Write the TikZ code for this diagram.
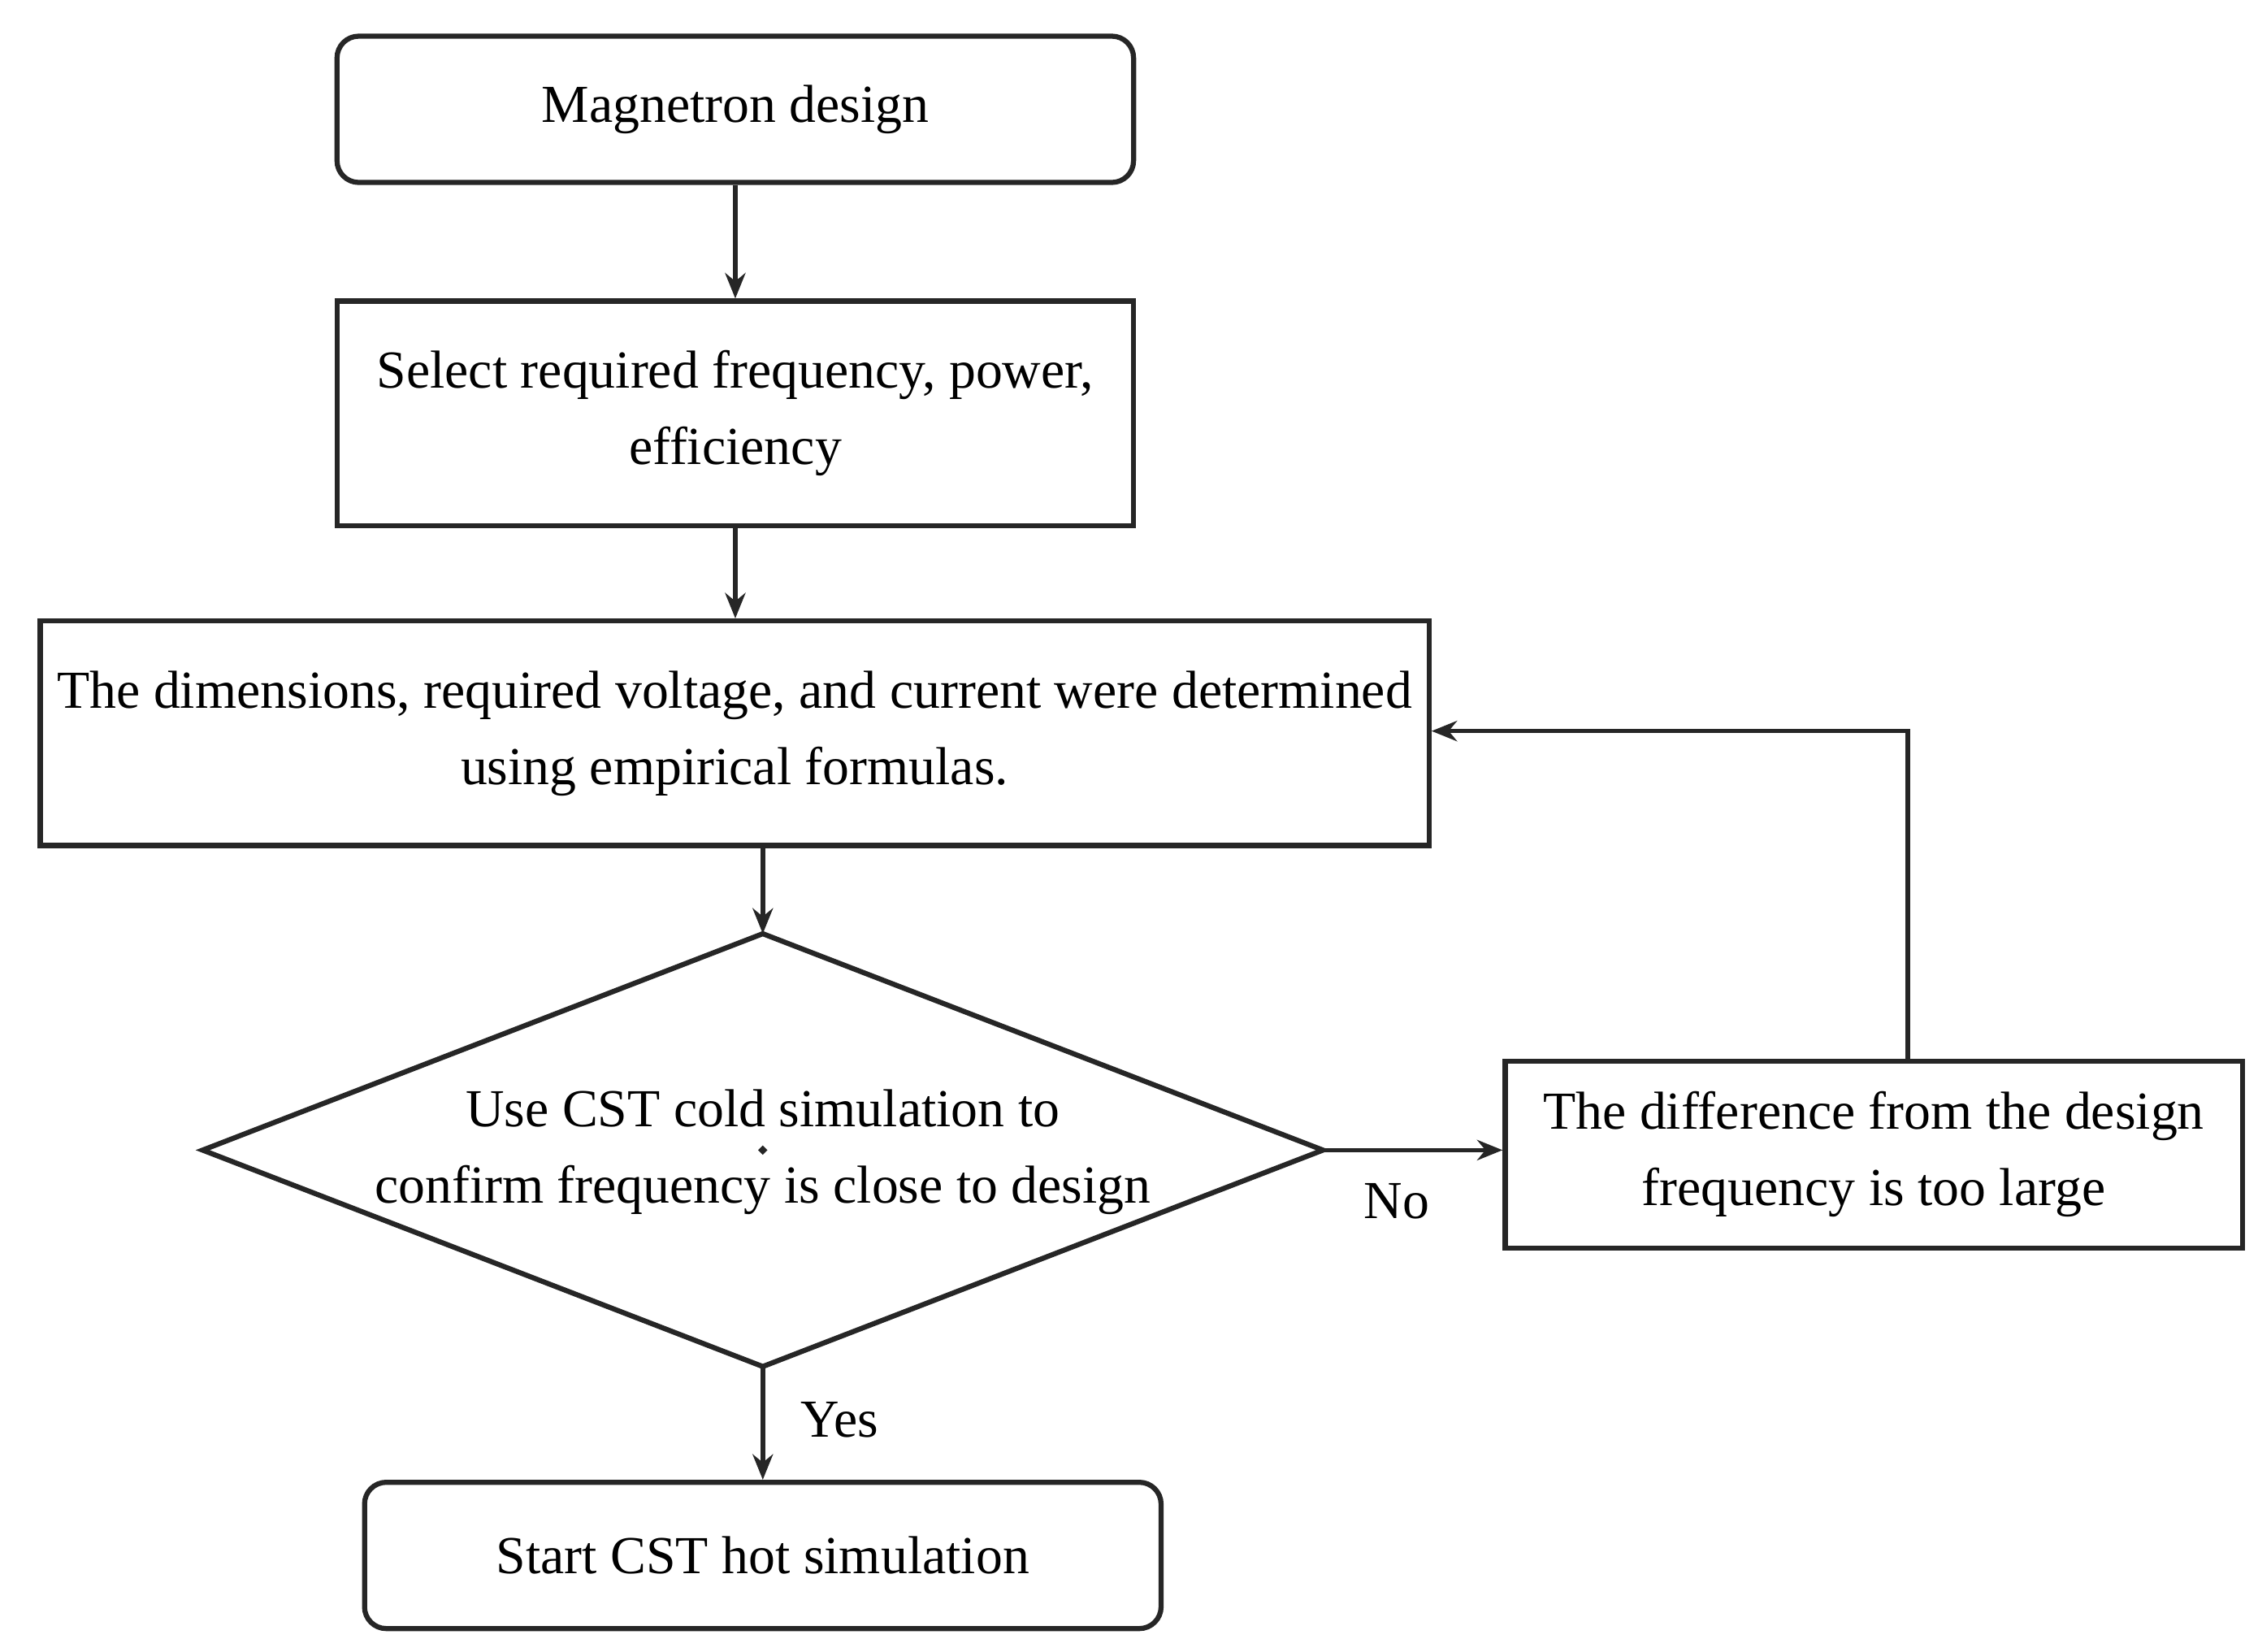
\documentclass[tikz,border=0pt]{standalone}
\usepackage{fontspec}
\setmainfont{Liberation Serif}
\usetikzlibrary{shapes.geometric,arrows.meta}
\begin{document}
\begin{tikzpicture}[x=0.01cm,y=-0.01cm,
  box/.style={draw=black!85,line width=1pt,align=center,font=\fontsize{10.5}{15}\selectfont,inner sep=0pt},
  rbox/.style={box,rounded corners=0.15cm},
  arr/.style={-{Stealth[length=5pt,width=4pt]},line width=0.9pt,black!85},
  lab/.style={font=\fontsize{10.5}{13}\selectfont}]
\useasboundingbox (0,0) rectangle (1560,1141);
\node[rbox,minimum width=5.5cm,minimum height=1.01cm] (a) at (508,75.5) {Magnetron design};
\node[box,minimum width=5.5cm,minimum height=1.55cm] (b) at (508,285.5) {Select required frequency, power,\\efficiency};
\node[box,minimum width=9.59cm,minimum height=1.55cm] (c) at (507.5,506.5) {The dimensions, required voltage, and current were determined\\using empirical formulas.};
\node[box,diamond,minimum width=0pt,minimum height=0pt] (d) at (527,794.5) {};
\draw[line width=1pt,black!85] (140,794.5) coordinate (dl) -- (527,645) coordinate (dt) -- (914,794.5) coordinate (dr) -- (527,944) coordinate (db) -- cycle;
\node[lab,align=center,font=\fontsize{10.5}{15}\selectfont] (dt2) at (527,796) {Use CST cold simulation to\\confirm frequency is close to design};
\node[box,minimum width=5.09cm,minimum height=1.29cm] (e) at (1294.5,797.5) {The difference from the design\\frequency is too large};
\node[rbox,minimum width=5.5cm,minimum height=1.01cm] (f) at (527,1074.5) {Start CST hot simulation};
\draw[arr] (a.south) -- (b.north);
\draw[arr] (b.south) -- (b.south |- c.north);
\draw[arr] (527,584) -- (dt);
\draw[arr] (dr) -- (e.west |- dr);
\draw[arr] (db) -- (f.north);
\coordinate (k) at (1318,505);
\draw[arr] (1318,733) -- (k) -- (c.east |- k);
\node[lab] (no) at (965,830) {No};
\node[lab] (yes) at (580,981) {Yes};
\end{tikzpicture}
\end{document}
